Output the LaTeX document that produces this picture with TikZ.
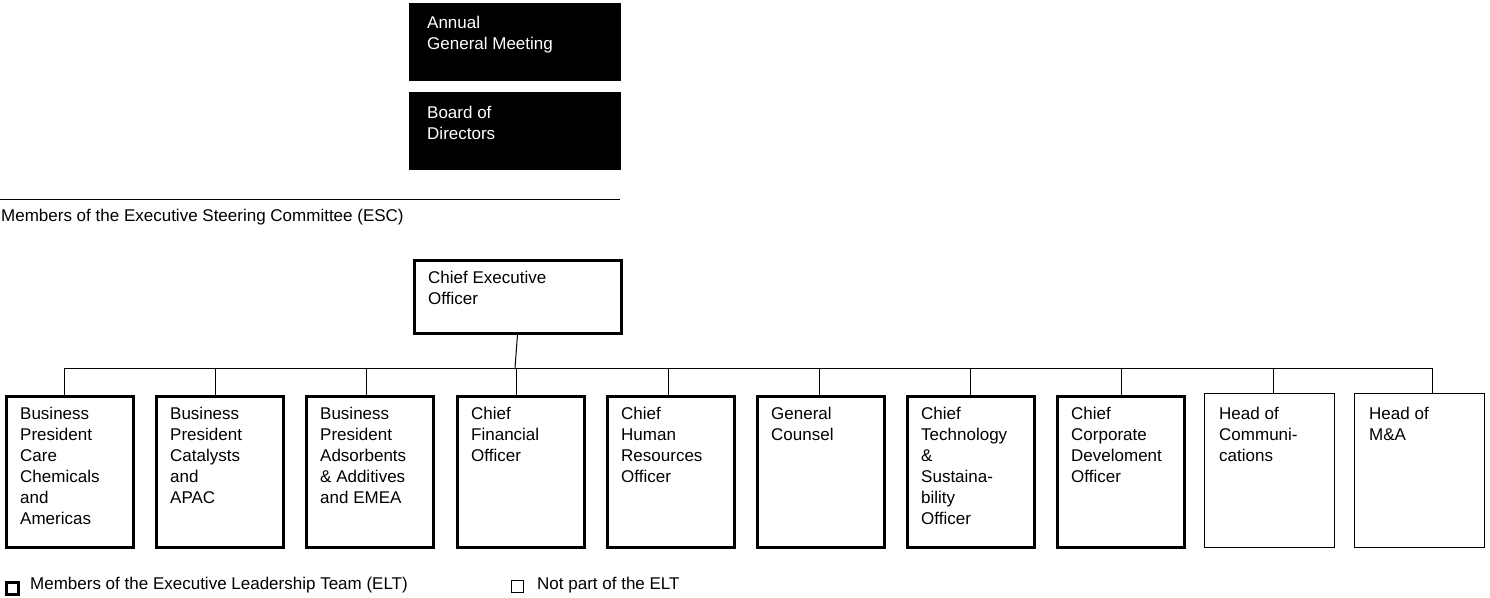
\documentclass[tikz,border=0pt]{standalone}
\usepackage{fontspec}
\setmainfont{Liberation Sans}
\begin{document}
\begin{tikzpicture}[x=1pt,y=-1pt,
  blk/.style={fill=black,draw=black,anchor=north west,minimum width=211pt,minimum height=77pt,inner sep=0pt},
  thk/.style={draw=black,line width=3pt,anchor=north west,minimum width=127pt,minimum height=151pt,inner sep=0pt},
  thn/.style={draw=black,line width=1pt,anchor=north west,minimum width=130pt,minimum height=154pt,inner sep=0pt},
  txt/.style={anchor=north west,align=left,inner sep=0pt,font=\fontsize{17}{21}\selectfont},
  wtxt/.style={txt,text=white},
  ln/.style={line width=1pt}]
\useasboundingbox (0,0) rectangle (1490,597);
\node[blk] (agm) at (409,3) {};
\node[wtxt] at (427,16) {Annual\\General Meeting};
\node[blk] (bod) at (409,92) {};
\node[wtxt] at (427,106) {Board of\\Directors};
\coordinate (l1) at (0,199); \coordinate (l2) at (620,199);
\draw[ln] (l1) -- (l2);
\node[txt] at (1,209) {Members of the Executive Steering Committee (ESC)};
\node[draw,line width=3pt,anchor=north west,minimum width=207pt,minimum height=73pt,inner sep=0pt] (ceo) at (412.5,258.5) {};
\node[txt] at (428,271) {Chief Executive\\Officer};
\coordinate (bar) at (515,368);
\draw[ln] (ceo.south) -- (bar);
\draw[ln] (64,368) -- (1432,368);
\foreach \n/\x/\d/\s/\t in {
 b1/3/64/thk/{Business\\President\\Care\\Chemicals\\and\\Americas},
 b2/153/215/thk/{Business\\President\\Catalysts\\and\\APAC},
 b3/303/366/thk/{Business\\President\\Adsorbents\\\& Additives\\and EMEA},
 b4/454/516/thk/{Chief\\Financial\\Officer},
 b5/604/668/thk/{Chief\\Human\\Resources\\Officer},
 b6/754/819/thk/{General\\Counsel},
 b7/904/970/thk/{Chief\\Technology\\\&\\Sustaina-\\bility\\Officer},
 b8/1054/1121/thk/{Chief\\Corporate\\Develoment\\Officer},
 b9/1204/1273/thn/{Head of\\Communi-\\cations},
 b10/1354/1432/thn/{Head of\\M\&A}}{
  \ifx\s\relax\fi
  \coordinate (\n top) at (\d,368);
}
\foreach \n/\x/\d/\t in {
 b1/3/64/{Business\\President\\Care\\Chemicals\\and\\Americas},
 b2/153/215/{Business\\President\\Catalysts\\and\\APAC},
 b3/303/366/{Business\\President\\Adsorbents\\\& Additives\\and EMEA},
 b4/454/516/{Chief\\Financial\\Officer},
 b5/604/668/{Chief\\Human\\Resources\\Officer},
 b6/754/819/{General\\Counsel},
 b7/904/970/{Chief\\Technology\\\&\\Sustaina-\\bility\\Officer},
 b8/1054/1121/{Chief\\Corporate\\Develoment\\Officer}}{
  \node[thk] (\n) at (\x+1.5,394.5) {};
  \coordinate (\n j) at (\d,368);
  \draw[ln] (\n j) -- (\n j |- \n.north);
  \node[txt] at (\x+17,407) {\t};
}
\foreach \n/\x/\d/\t in {
 b9/1204/1273/{Head of\\Communi-\\cations},
 b10/1354/1432/{Head of\\M\&A}}{
  \node[thn] (\n) at (\x,393) {};
  \coordinate (\n j) at (\d,368);
  \draw[ln] (\n j) -- (\n j |- \n.north);
  \node[txt] at (\x+15,407) {\t};
}
\node[draw,line width=3pt,anchor=north west,minimum size=12pt,inner sep=0pt] (lg1) at (4.5,580.5) {};
\node[txt] at (30,577) {Members of the Executive Leadership Team (ELT)};
\node[draw,line width=1pt,anchor=north west,minimum size=12pt,inner sep=0pt] (lg2) at (511,580) {};
\node[txt] at (537,577) {Not part of the ELT};
\end{tikzpicture}
\end{document}
